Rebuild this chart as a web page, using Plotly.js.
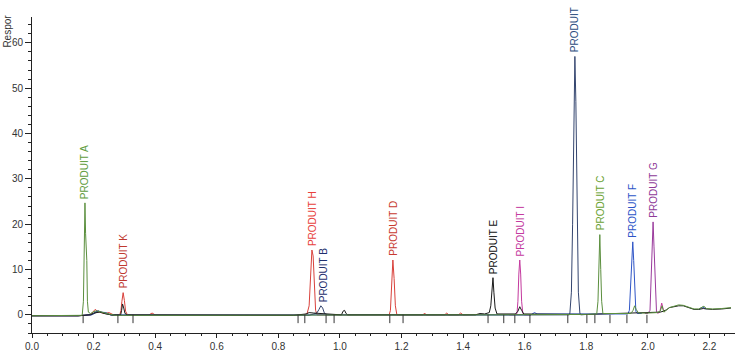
<!DOCTYPE html>
<html>
<head>
<meta charset="utf-8">
<script src="https://cdn.plot.ly/plotly-3.0.1.min.js"></script>
<style>html,body{margin:0;padding:0;background:#fff}#chart{width:743px;height:364px}</style>
</head>
<body>
<div id="chart"></div>
<script>
// Retention time (min) / response values, one run per colour
const greenX = [0,0.150,0.163,0.167,0.170,0.172,0.174,0.176,0.178,0.180,0.183,0.190,0.200,0.210,0.225,0.240,0.255,0.270,0.400,0.800,1.200,1.500,1.800,1.834,1.838,1.841,1.844,1.847,1.850,1.854,1.900,1.945,1.952,1.957,1.962,1.970,2.000,2.030,2.040,2.046,2.052,2.060,2.070,2.085,2.100,2.115,2.130,2.150,2.165,2.175,2.182,2.190,2.210,2.240,2.270];
const greenY = [-0.2,-0.2,-0.1,3,14,24.7,18,15.4,12,3,0.6,0.3,0.7,0.9,0.6,0.4,0.1,-0.1,-0.1,-0.1,0,0,0.1,0.2,3,10,17.7,10,3,0.3,0.3,0.3,1.0,2.0,1.2,0.4,0.4,0.5,0.8,2.0,0.6,1.0,1.6,1.9,2.2,2.1,1.7,1.3,1.3,1.6,1.9,1.4,1.3,1.4,1.6];

const redX = [0,0.150,0.190,0.200,0.205,0.215,0.235,0.250,0.265,0.285,0.289,0.292,0.296,0.300,0.304,0.310,0.380,0.390,0.400,0.880,0.893,0.900,0.905,0.909,0.913,0.917,0.921,0.926,1.160,1.164,1.168,1.172,1.176,1.180,1.185,1.270,1.275,1.280,1.340,1.347,1.353,1.385,1.392,1.400,1.450];
const redY = [-0.2,-0.2,0,0.8,1.2,0.7,0.3,0.5,0,0,1,3,4.9,3.2,0.8,0,0,0.4,0,0,0.2,2,9,14.3,13,6,1,0,0,1,7,12.1,8,2,0,0,0.4,0,0,0.4,0,0,0.4,0,0.1];

const blackX = [0,0.150,0.190,0.200,0.220,0.240,0.260,0.288,0.291,0.294,0.298,0.302,0.310,0.850,0.890,0.900,0.915,1.005,1.010,1.015,1.020,1.025,1.440,1.455,1.470,1.485,1.490,1.494,1.497,1.500,1.504,1.510,1.570,1.578,1.584,1.590,1.597,1.800,1.900,2.000,2.040,2.050,2.060,2.070,2.085,2.100,2.115,2.130,2.150,2.165,2.180,2.190,2.210,2.240,2.270];
const blackY = [-0.2,-0.2,0,0.4,0.6,0.2,0,0,1,2.4,1.5,0.3,0,-0.1,0.2,0.5,0.4,0,0.8,1.0,0.3,0,0,0.3,0.2,0.5,2,6,8.2,5,1.5,0.2,0.2,0.8,1.8,1.0,0.2,0.1,0.3,0.4,0.6,0.8,1.1,1.6,1.8,2.0,2.0,1.6,1.2,1.2,1.4,1.3,1.2,1.3,1.5];

const navyX = [0,0.150,0.200,0.215,0.230,0.250,0.260,0.900,0.925,0.932,0.938,0.944,0.950,0.960,1.745,1.7468,1.7517,1.7556,1.7598,1.763,1.7662,1.7704,1.7743,1.7792,1.782,1.800];
const navyY = [-0.2,-0.2,0.2,0.8,0.5,0.1,-0.1,-0.1,0.4,1.2,2.0,1.5,0.3,0,0,0.4,5,20,47,57,47,20,5,0.4,0,0.1];

const blueX = [0,0.150,0.195,0.205,0.215,0.225,0.240,0.255,1.620,1.632,1.640,1.935,1.940,1.944,1.948,1.951,1.954,1.957,1.961,1.966,1.980,null,2.165,2.178,2.190];
const blueY = [-0.2,-0.2,0,0.6,0.9,0.6,0.5,0,0,0.5,0.2,0.2,1,6,14,16.1,12,5,0.8,0.3,0.3,null,1.2,1.7,1.3];

const magentaX = [1.550,1.565,1.575,1.578,1.581,1.584,1.587,1.590,1.594,1.600,1.620,null,2.030,2.035,2.040,2.045,2.050,2.055];
const magentaY = [0,0,0.3,3,9,12.1,9,3,0.3,0,0,null,0.4,0.4,1.0,2.6,1.2,0.6];

const purpleX = [1.990,2.000,2.007,2.011,2.015,2.017,2.020,2.024,2.028,2.032];
const purpleY = [0.3,0.3,1,8,18,20.5,15,5,0.8,0.4];

// Peak labels
const labelNames = ["PRODUIT A","PRODUIT K","PRODUIT H","PRODUIT B","PRODUIT D","PRODUIT E","PRODUIT I","PRODUIT","PRODUIT C","PRODUIT F","PRODUIT G"];
const labelX = [0.173,0.296,0.911,0.945,1.173,1.497,1.586,1.764,1.845,1.951,2.019];
const labelY = [24.7,4.9,14.3,2.0,12.1,8.2,12.1,57,17.7,16.1,20.5];
const labelColors = ["#5e9c3c","#c0392f","#e8413c","#1f2f6e","#c83a30","#111111","#c43aa0","#2c4d7e","#6aa232","#2c55c8","#8e3a98"];

// Integration marks under the baseline
const markX = [0.166,0.279,0.328,0.864,0.886,0.955,0.981,1.162,1.205,1.481,1.532,1.568,1.617,1.740,1.802,1.828,1.877,1.932,1.997];

const font = "Arial";
function tr(x, y, color) {
  return {x: x, y: y, type: "scatter", mode: "lines", connectgaps: false, line: {color: color, width: 1}, hoverinfo: "skip", showlegend: false};
}
const data = [
  tr(redX, redY, "#d9413b"),
  tr(magentaX, magentaY, "#c4399e"),
  tr(purpleX, purpleY, "#9a3a9c"),
  tr(blueX, blueY, "#2f55c6"),
  tr(navyX, navyY, "#34456f"),
  tr(blackX, blackY, "#1a1a1a"),
  tr(greenX, greenY, "#5b8f3e"),
  {x: markX, y: markX.map(() => -0.9), type: "scatter", mode: "markers",
   marker: {symbol: "line-ns", size: 6, line: {color: "#333", width: 1}}, hoverinfo: "skip", showlegend: false}
];

const annotations = labelNames.map((t, i) => ({
  text: t, x: labelX[i], y: labelY[i], xref: "x", yref: "y",
  xanchor: "center", yanchor: "bottom", yshift: 2, textangle: -90, showarrow: false,
  font: {family: font, size: 10, color: labelColors[i]}
}));
annotations.push({
  text: "Respor", xref: "paper", yref: "paper", x: -0.035, y: 0.955,
  xanchor: "center", yanchor: "middle", textangle: -90, showarrow: false,
  font: {family: font, size: 10, color: "#333"}
});

const layout = {
  width: 743, height: 364,
  margin: {l: 32, r: 8, t: 17, b: 31},
  paper_bgcolor: "#fff", plot_bgcolor: "#fff",
  font: {family: font, size: 10, color: "#333"},
  showlegend: false,
  xaxis: {
    range: [0, 2.283], dtick: 0.2, tick0: 0, tickformat: ".1f",
    showgrid: false, zeroline: false, showline: true, linecolor: "#222", linewidth: 1,
    ticks: "outside", ticklen: 4, tickcolor: "#222",
    minor: {dtick: 0.05, ticks: "outside", ticklen: 2, tickcolor: "#222"},
    tickfont: {family: font, size: 10, color: "#333"}
  },
  yaxis: {
    range: [-4, 65.7], dtick: 10, tick0: 0,
    showgrid: false, zeroline: false, showline: true, linecolor: "#222", linewidth: 1,
    ticks: "outside", ticklen: 6, tickcolor: "#222",
    minor: {dtick: 2, ticks: "outside", ticklen: 3, tickcolor: "#222"},
    tickfont: {family: font, size: 10, color: "#333"}
  },
  annotations: annotations
};

Plotly.newPlot("chart", data, layout, {staticPlot: true, displayModeBar: false});
</script>
</body>
</html>
